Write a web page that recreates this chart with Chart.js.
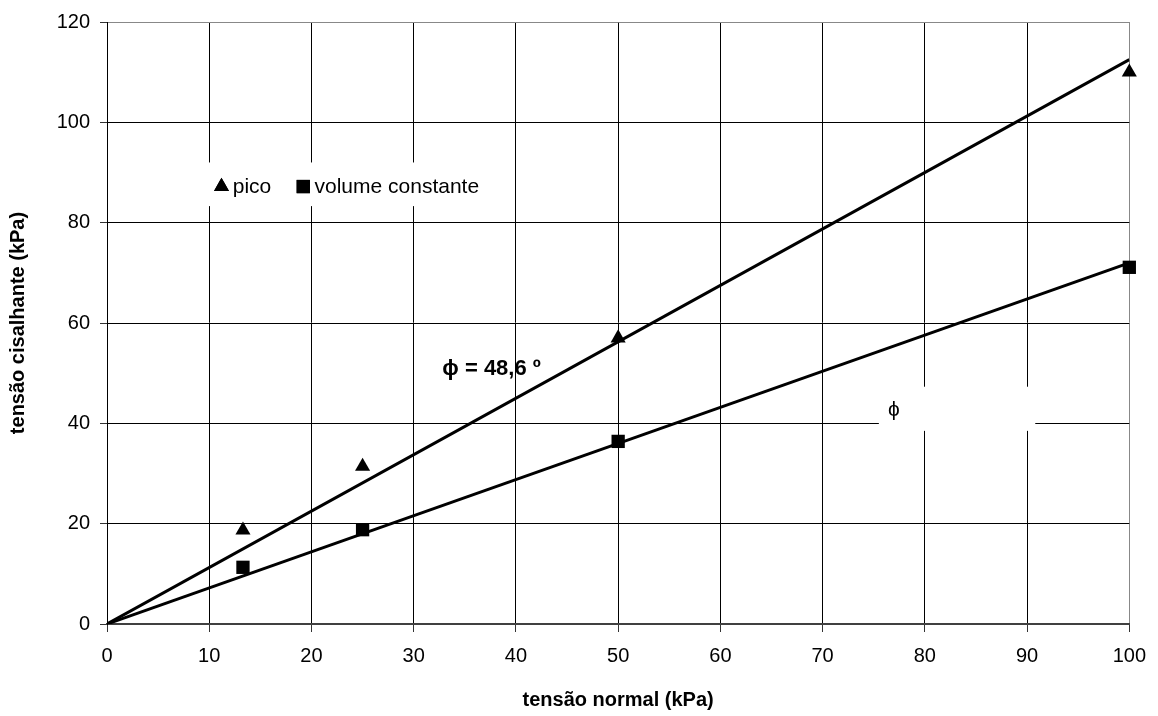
<!DOCTYPE html>
<html>
<head>
<meta charset="utf-8">
<script src="https://cdn.jsdelivr.net/npm/chart.js@4.4.1/dist/chart.umd.min.js"></script>
<style>
  html, body { margin: 0; padding: 0; background: #fff; }
  #chart { display: block; }
</style>
</head>
<body>
<canvas id="chart" width="1158" height="716"></canvas>
<script>
// shear box results
const normalStress = [13.3, 25, 50, 100];
const peakShear = [18.7, 31.4, 57, 110];
const cvShear = [11.3, 18.8, 36.4, 71.1];

// failure envelopes through the origin
const peakFitX = [0, 100];
const peakFitY = [0, 112.5];
const cvFitX = [0, 100];
const cvFitY = [0, 72];

const xTicks = [0, 10, 20, 30, 40, 50, 60, 70, 80, 90, 100];
const yTicks = [0, 20, 40, 60, 80, 100, 120];

const seriesNames = ['pico', 'volume constante'];
const peakAngleLabel = 'ϕ = 48,6 º';

const FONT = "'Liberation Sans', Arial, sans-serif";

const toPoints = (xs, ys) => xs.map((v, i) => ({ x: v, y: ys[i] }));

// white rectangle given in axis units
function whiteBox(ctx, x, y, x0, x1, y0, y1) {
    const left = x.getPixelForValue(x0);
    const top = y.getPixelForValue(y1);
    ctx.fillRect(left, top, x.getPixelForValue(x1) - left, y.getPixelForValue(y0) - top);
}

// legend box + angle labels drawn inside the plot area
const plotNotes = {
    id: 'plotNotes',
    beforeDatasetsDraw(chart) {
        const { ctx, scales: { x, y } } = chart;
        ctx.save();
        ctx.fillStyle = '#fff';
        whiteBox(ctx, x, y, 9.0, 39.0, 83.3, 92.0);   // legend
        whiteBox(ctx, x, y, 75.5, 90.8, 38.5, 47.3);  // second envelope label
        ctx.restore();
    },
    afterDatasetsDraw(chart) {
        const { ctx, scales: { x, y } } = chart;
        ctx.save();
        ctx.fillStyle = '#000';
        ctx.textAlign = 'left';
        ctx.textBaseline = 'alphabetic';
        ctx.font = '21px ' + FONT;

        const markY = y.getPixelForValue(87.2);
        const textY = y.getPixelForValue(86.0);
        const marks = [
            { style: 'triangle', r: 8.7, at: 11.2, text: 12.3 },
            { style: 'rect', r: 9.4, at: 19.2, text: 20.3 }
        ];
        marks.forEach((m, i) => {
            Chart.helpers.drawPoint(ctx, { pointStyle: m.style, radius: m.r, borderWidth: 0 },
                x.getPixelForValue(m.at), markY);
            ctx.fill();
            ctx.fillText(seriesNames[i], x.getPixelForValue(m.text), textY);
        });

        ctx.font = 'bold 22px ' + FONT;
        ctx.fillText(peakAngleLabel, x.getPixelForValue(32.8), y.getPixelForValue(49.6));
        ctx.font = '21px ' + FONT;
        ctx.fillText('ϕ', x.getPixelForValue(76.4), y.getPixelForValue(41.4));
        ctx.restore();
    }
};

const ctx = document.getElementById('chart').getContext('2d');
const chart = new Chart(ctx, {
    type: 'scatter',
    data: {
        datasets: [
            {
                label: seriesNames[0],
                data: toPoints(normalStress, peakShear),
                pointStyle: 'triangle',
                pointRadius: 8.7,
                backgroundColor: '#000',
                borderColor: '#000',
                borderWidth: 0,
                clip: false
            },
            {
                label: seriesNames[1],
                data: toPoints(normalStress, cvShear),
                pointStyle: 'rect',
                pointRadius: 9.4,
                backgroundColor: '#000',
                borderColor: '#000',
                borderWidth: 0,
                clip: false
            },
            {
                label: 'envoltória pico',
                data: toPoints(peakFitX, peakFitY),
                showLine: true,
                pointRadius: 0,
                borderColor: '#000',
                borderWidth: 3
            },
            {
                label: 'envoltória volume constante',
                data: toPoints(cvFitX, cvFitY),
                showLine: true,
                pointRadius: 0,
                borderColor: '#000',
                borderWidth: 3
            }
        ]
    },
    options: {
        responsive: false,
        animation: false,
        layout: { padding: { top: 22, right: 28, left: 0, bottom: 0 } },
        plugins: {
            legend: { display: false },
            tooltip: { enabled: false }
        },
        scales: {
            x: {
                type: 'linear',
                min: 0,
                max: 100,
                afterBuildTicks: s => { s.ticks = xTicks.map(v => ({ value: v })); },
                afterFit: s => { s.height = 92; },
                grid: {
                    color: c => c.tick && c.tick.value === 100 ? '#888' : '#000',
                    lineWidth: 1,
                    tickLength: 8,
                    tickColor: '#333'
                },
                border: { color: '#404040', width: 2 },
                ticks: {
                    color: '#000',
                    font: { family: FONT, size: 20 },
                    padding: 12,
                    maxRotation: 0
                },
                title: {
                    display: true,
                    text: 'tensão normal (kPa)',
                    color: '#000',
                    font: { family: FONT, size: 20, weight: 'bold' },
                    padding: { top: 0, bottom: 4 }
                }
            },
            y: {
                type: 'linear',
                min: 0,
                max: 120,
                afterBuildTicks: s => { s.ticks = yTicks.map(v => ({ value: v })); },
                afterFit: s => { s.width = 107; },
                grid: {
                    color: c => c.tick && c.tick.value === 120 ? '#888' : '#000',
                    lineWidth: 1,
                    tickLength: 7,
                    tickColor: '#333'
                },
                border: { color: '#000', width: 1 },
                ticks: {
                    color: '#000',
                    font: { family: FONT, size: 20 },
                    padding: 10
                },
                title: {
                    display: true,
                    text: 'tensão cisalhante (kPa)',
                    color: '#000',
                    font: { family: FONT, size: 20, weight: 'bold' },
                    padding: { top: 6, bottom: 0 }
                }
            }
        }
    },
    plugins: [plotNotes]
});
</script>
</body>
</html>
